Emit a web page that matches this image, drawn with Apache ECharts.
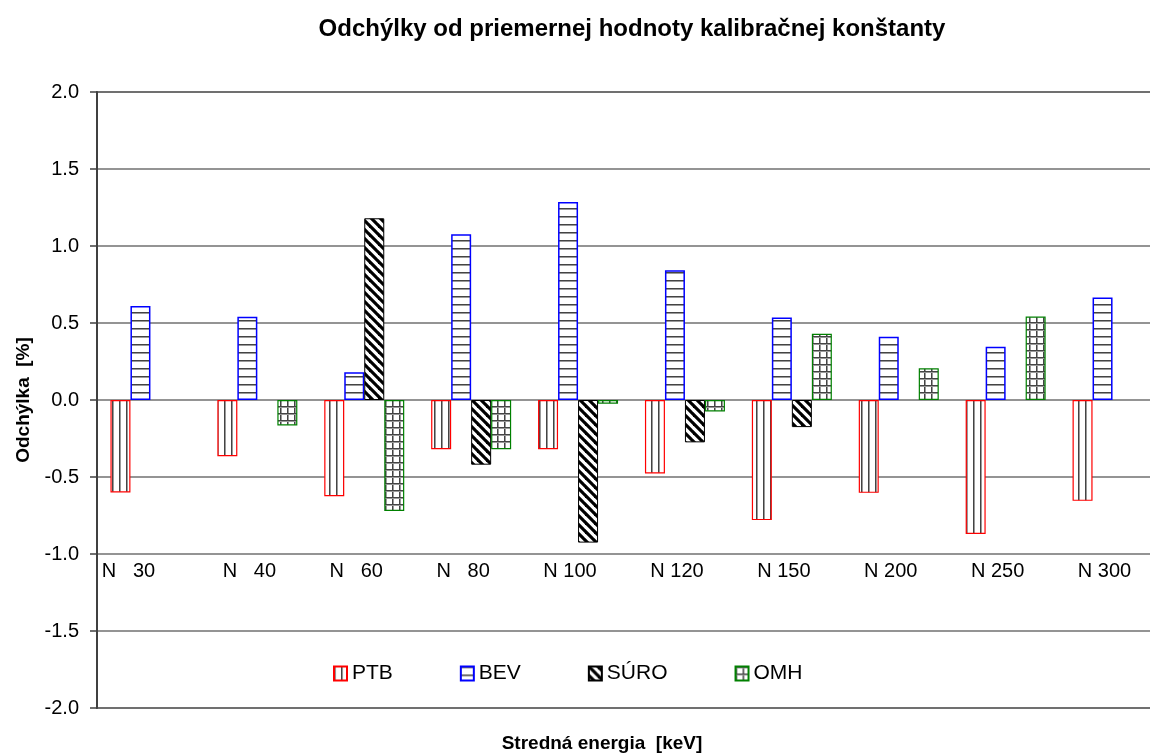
<!DOCTYPE html>
<html>
<head>
<meta charset="utf-8">
<title>Odchýlky od priemernej hodnoty kalibračnej konštanty</title>
<script src="https://cdn.jsdelivr.net/npm/echarts@6/dist/echarts.min.js"></script>
<style>
  html, body { margin: 0; padding: 0; background: #fff; }
  #chart { width: 1150px; height: 754px; }
</style>
</head>
<body>
<div id="chart"></div>
<script>
// data
const categories = ['N   30', 'N   40', 'N   60', 'N   80', 'N 100', 'N 120', 'N 150', 'N 200', 'N 250', 'N 300'];
const ptb  = [-0.60, -0.365, -0.625, -0.32, -0.32, -0.477, -0.78, -0.603, -0.87, -0.655];
const bev  = [0.61, 0.54, 0.18, 1.076, 1.286, 0.842, 0.536, 0.41, 0.345, 0.666];
const suro = ['-', '-', 1.18, -0.42, -0.926, -0.275, -0.176, '-', '-', '-'];
const omh  = ['-', -0.165, -0.72, -0.32, -0.024, -0.074, 0.43, 0.206, 0.542, '-'];

const FONT = "'Liberation Sans', Arial, sans-serif";

// Excel-like hatch fills
function hatch(kind) {
    const c = document.createElement('canvas');
    const s = kind === 'diag' ? 9 : (kind === 'horiz' ? 8 : 7);
    c.width = s; c.height = s;
    const ctx = c.getContext('2d');
    ctx.fillStyle = '#fff';
    ctx.fillRect(0, 0, s, s);
    if (kind === 'vert' || kind === 'grid') {
        ctx.fillStyle = '#444';
        ctx.fillRect(0, 0, 1, s);
        ctx.fillStyle = '#9a9a9a';
        ctx.fillRect(1, 0, 1, s);
    }
    if (kind === 'horiz' || kind === 'grid') {
        ctx.fillStyle = '#444';
        ctx.fillRect(0, 0, s, 1);
        ctx.fillStyle = '#9a9a9a';
        ctx.fillRect(0, 1, s, 1);
    }
    if (kind === 'diag') {
        ctx.strokeStyle = '#000';
        ctx.lineWidth = 3.2;
        for (let k = -1; k <= 1; k++) {
            ctx.beginPath();
            ctx.moveTo(k * s - 2, -2);
            ctx.lineTo(k * s + s + 2, s + 2);
            ctx.stroke();
        }
    }
    return { image: c, repeat: 'repeat' };
}

function barSeries(name, data, fill, border, bw) {
    return {
        name: name,
        type: 'bar',
        data: data,
        barWidth: 20,
        barGap: '0%',
        itemStyle: { color: fill, borderColor: border, borderWidth: bw },
        emphasis: { disabled: true }
    };
}

const chart = echarts.init(document.getElementById('chart'));

const option = {
    animation: false,
    backgroundColor: '#fff',
    title: [{
        text: 'Odchýlky od priemernej hodnoty kalibračnej konštanty',
        left: 627,
        top: 12,
        textAlign: 'center',
        textStyle: { fontFamily: FONT, fontSize: 24, fontWeight: 'bold', color: '#000' }
    }, {
        text: 'Stredná energia  [keV]',
        left: 597,
        top: 729,
        textAlign: 'center',
        textStyle: { fontFamily: FONT, fontSize: 19, fontWeight: 'bold', color: '#000' }
    }],
    legend: {
        left: 328,
        top: 658,
        icon: 'rect',
        itemWidth: 13,
        itemHeight: 14,
        itemGap: 67,
        itemTextGap: 7,
        selectedMode: false,
        textStyle: { fontFamily: FONT, fontSize: 21, color: '#000' },
        data: ['PTB', 'BEV', 'SÚRO', 'OMH']
    },
    grid: {
        left: 97,
        right: -16,
        top: 92,
        bottom: 46,
        show: true,
        borderColor: '#404040',
        borderWidth: 1.5,
        containLabel: false,
        outerBoundsMode: 'none'
    },
    xAxis: {
        type: 'category',
        data: categories,
        position: 'bottom',
        axisLine: { show: false, onZero: false },
        axisTick: { show: false },
        splitLine: { show: false },
        axisLabel: {
            margin: -147,
            interval: 0,
            padding: [0, 16, 0, 0],
            fontFamily: FONT,
            fontSize: 20,
            color: '#000',
            formatter: function (v, i) { return i === 0 ? '{a|' + v + '}' : v; },
            rich: { a: { fontFamily: FONT, fontSize: 20, color: '#000', padding: [0, 28, 0, 0] } }
        }
    },
    yAxis: {
        type: 'value',
        min: -2,
        max: 2,
        interval: 0.5,
        name: 'Odchýlka  [%]',
        nameLocation: 'middle',
        nameRotate: 90,
        nameGap: 64,
        nameTextStyle: { fontFamily: FONT, fontSize: 19, fontWeight: 'bold', color: '#000' },
        axisLine: { show: true, lineStyle: { color: '#404040', width: 2 } },
        axisTick: { show: true, length: 7, lineStyle: { color: '#404040', width: 1.5 } },
        axisLabel: {
            margin: 18,
            fontFamily: FONT,
            fontSize: 20,
            color: '#000',
            formatter: function (v) { return v.toFixed(1); }
        },
        splitLine: { show: true, lineStyle: { color: '#707070', width: 1.5 } }
    },
    series: [
        barSeries('PTB', ptb, hatch('vert'), '#ff0000', 1.2),
        barSeries('BEV', bev, hatch('horiz'), '#0000ff', 1.5),
        barSeries('SÚRO', suro, hatch('diag'), '#000000', 1),
        barSeries('OMH', omh, hatch('grid'), '#008000', 1.2)
    ]
};

chart.setOption(option);
</script>
</body>
</html>
